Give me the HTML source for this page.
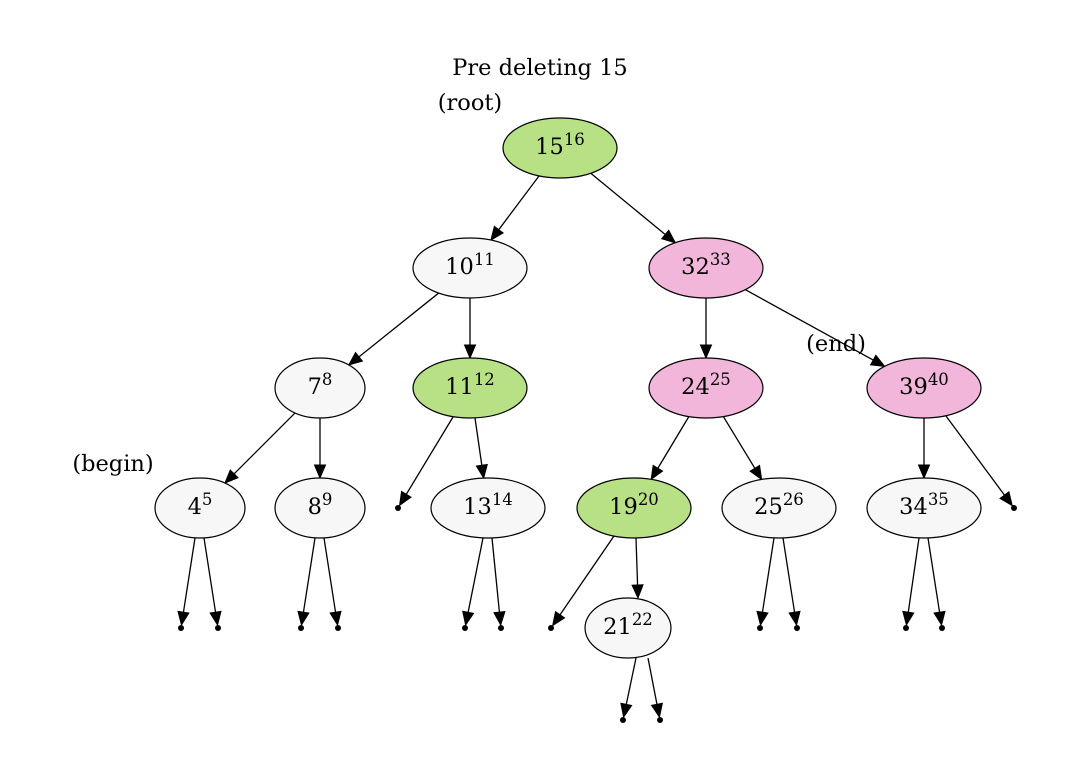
<!DOCTYPE html>
<html><head><meta charset="utf-8"><style>
html,body{margin:0;padding:0;background:#fff;}
svg{display:block;font-family:"DejaVu Serif",serif;}
</style></head><body>
<svg id="s" width="1081" height="757" viewBox="0 0 1081 757" xmlns="http://www.w3.org/2000/svg">
<rect width="1081" height="757" fill="#fff"/>
<text x="540" y="75" text-anchor="middle" font-size="22.5">Pre deleting 15</text>
<text x="470" y="110" text-anchor="middle" font-size="22.5">(root)</text>
<text x="836" y="351" text-anchor="middle" font-size="22.5">(end)</text>
<text x="113" y="471" text-anchor="middle" font-size="22.5">(begin)</text>
</svg>
<script>
var G="#b8e186",P="#f1b6da",L="#f7f7f7";
var N={
n15:[560,148,57,30,G,"15","16"],
n10:[470,268,57,30,L,"10","11"],
n32:[706,268,57,30,P,"32","33"],
n7:[320,388,45,30,L,"7","8"],
n11:[470,388,57,30,G,"11","12"],
n24:[706,388,57,30,P,"24","25"],
n39:[924,388,57,30,P,"39","40"],
n4:[200,508,45,30,L,"4","5"],
n8:[320,508,45,30,L,"8","9"],
d11:[398,508,3,3],
n13:[488,508,57,30,L,"13","14"],
n19:[634,508,57,30,G,"19","20"],
n25:[779,508,57,30,L,"25","26"],
n34:[924,508,57,30,L,"34","35"],
d39:[1014,508,3,3],
a1:[181,628,3,3],a2:[218,628,3,3],b1:[301,628,3,3],b2:[338,628,3,3],
c1:[465,628,3,3],c2:[501,628,3,3],e1:[551,628,3,3],
n21:[628,628,43,30,L,"21","22"],
f1:[760,628,3,3],f2:[797,628,3,3],g1:[906,628,3,3],g2:[942,628,3,3],
h1:[623,720,3,3],h2:[660,720,3,3]};
var E=[["n15","n10"],["n15","n32"],["n10","n7"],["n10","n11"],["n32","n24"],["n32","n39"],
["n7","n4"],["n7","n8"],["n11","d11",453,417],["n11","n13",475,418],["n24","n19"],["n24","n25"],["n39","n34"],["n39","d39",946,416],
["n4","a1",195,538],["n4","a2",204,538],["n8","b1",315,538],["n8","b2",324,538],["n13","c1",483,538],["n13","c2",492,538],["n19","e1",614,536],["n19","n21",636,538,638,598],
["n25","f1",774,538],["n25","f2",783,538],["n34","g1",919,538],["n34","g2",928,538],["n21","h1",636,658],["n21","h2",648,658]];
var s="";
function bd(n,dx,dy){var t=1/Math.sqrt(dx*dx/(n[2]*n[2])+dy*dy/(n[3]*n[3]));return [n[0]+dx*t,n[1]+dy*t];}
E.forEach(function(e){var a=N[e[0]],b=N[e[1]];var p,q;
if(e.length>2){p=[e[2],e[3]];
 if(e.length>4){q=[e[4],e[5]];}else{var dx=b[0]-p[0],dy=b[1]-p[1];q=bd(b,-dx,-dy);}}
else{var dx=b[0]-a[0],dy=b[1]-a[1];p=bd(a,dx,dy);q=bd(b,-dx,-dy);}
var l=Math.hypot(q[0]-p[0],q[1]-p[1]);var ux=(q[0]-p[0])/l,uy=(q[1]-p[1])/l;
var bx=q[0]-ux*13,by=q[1]-uy*13;
s+='<line x1="'+p[0]+'" y1="'+p[1]+'" x2="'+bx+'" y2="'+by+'" stroke="#000" stroke-width="1.3"/>';
s+='<polygon points="'+q[0]+','+q[1]+' '+(bx-uy*5.5)+','+(by+ux*5.5)+' '+(bx+uy*5.5)+','+(by-ux*5.5)+'" fill="#000" stroke="#000"/>';});
for(var k in N){var n=N[k];
if(n.length<5){s+='<circle cx="'+n[0]+'" cy="'+n[1]+'" r="3" fill="#000"/>';}
else{s+='<ellipse cx="'+n[0]+'" cy="'+n[1]+'" rx="'+n[2]+'" ry="'+n[3]+'" fill="'+n[4]+'" stroke="#000" stroke-width="1.2"/>';
s+='<text x="'+n[0]+'" y="'+(n[1]+6)+'" text-anchor="middle" font-size="22.5">'+n[5]+'<tspan font-size="16.5" dy="-9">'+n[6]+'</tspan></text>';}}
document.getElementById("s").insertAdjacentHTML("beforeend",s);
</script>
</body></html>
